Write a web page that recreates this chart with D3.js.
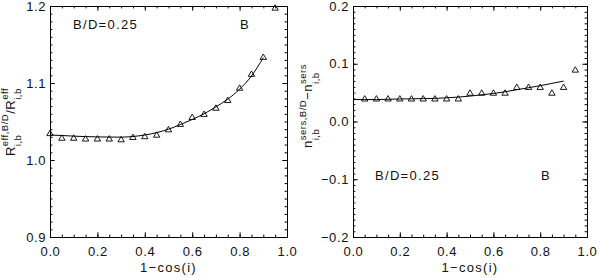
<!DOCTYPE html>
<html><head><meta charset="utf-8">
<script src="https://cdn.jsdelivr.net/npm/d3@7"></script>
<style>
body{margin:0;background:#fff;}
svg{display:block;}
text{font-family:"Liberation Sans",Arial,sans-serif;fill:#111;}
</style></head>
<body>
<svg id="c" width="600" height="278"></svg>
<script>
// ---- data ----
const xPts = [0.00,0.05,0.10,0.15,0.20,0.25,0.30,0.35,0.40,0.45,0.50,0.55,0.60,0.65,0.70,0.75,0.80,0.85,0.90,0.95];
const rPts = [1.035,1.029,1.029,1.028,1.028,1.028,1.027,1.030,1.031,1.033,1.040,1.047,1.056,1.060,1.068,1.078,1.094,1.112,1.134,1.198];
const xPtsN = [0.05,0.10,0.15,0.20,0.25,0.30,0.35,0.40,0.45,0.50,0.55,0.60,0.65,0.70,0.75,0.80,0.85,0.90,0.95];
const nPts = [0.04,0.04,0.04,0.04,0.04,0.04,0.04,0.04,0.04,0.05,0.05,0.05,0.05,0.06,0.06,0.06,0.05,0.06,0.09];
const xFit = [0.00,0.05,0.10,0.15,0.20,0.25,0.30,0.35,0.40,0.45,0.50,0.55,0.60,0.65,0.70,0.75,0.80,0.85,0.90];
const rFit = [1.0325,1.0318,1.0310,1.0304,1.0300,1.0298,1.0297,1.0305,1.0325,1.0355,1.0400,1.0460,1.0526,1.0600,1.0690,1.0790,1.0920,1.1090,1.1330];
const nFit = [0.038,0.038,0.038,0.0385,0.039,0.0393,0.0397,0.040,0.041,0.0423,0.044,0.0462,0.0485,0.0515,0.055,0.0585,0.062,0.066,0.070];
const xTicks = [0.0,0.2,0.4,0.6,0.8,1.0];
const yTicksL = [0.9,1.0,1.1,1.2];
const yTicksR = [-0.2,-0.1,0.0,0.1,0.2];
const xTitle = "1\u2212cos(i)";

const svg = d3.select("#c");
const fmt = d3.format(".1f");

function tri(){
  return {draw(ctx){ ctx.moveTo(-3.2,2.6); ctx.lineTo(0,-2.8); ctx.lineTo(3.2,2.6); ctx.closePath(); }};
}

function panel(o){
  const g = svg.append("g");
  const x = d3.scaleLinear().domain([0,1]).range([o.x0,o.x1]);
  const y = d3.scaleLinear().domain(o.yd).range([o.y1,o.y0]);
  const xMinor = d3.range(0,1.0001,0.05).map(v=>+v.toFixed(2));
  const yMinor = d3.range(o.yd[0],o.yd[1]+1e-9,0.01).map(v=>+v.toFixed(2));
  const TL=4.7, TM=2.4;
  function ax(gen, tr, vals, len, lab){
    const a = gen.tickValues(vals).tickSizeInner(-len).tickSizeOuter(0).tickPadding(lab?lab:0);
    if(!lab) a.tickFormat(""); else a.tickFormat(fmt);
    const s = g.append("g").attr("transform",tr).call(a);
    s.selectAll("path").attr("stroke","#000").attr("stroke-width",1);
    s.selectAll("line").attr("stroke","#000").attr("stroke-width",1);
    s.selectAll("text").style("font-size","13px").style("letter-spacing","0.6px")
      .style("font-family",'"Liberation Sans",Arial,sans-serif').attr("fill","#111");
    return s;
  }
  ax(d3.axisBottom(x), `translate(0,${o.y1})`, xMinor, TM);
  ax(d3.axisBottom(x), `translate(0,${o.y1})`, xTicks, TL, 10);
  ax(d3.axisTop(x), `translate(0,${o.y0})`, xMinor, TM);
  ax(d3.axisTop(x), `translate(0,${o.y0})`, xTicks, TL);
  ax(d3.axisLeft(y), `translate(${o.x0},0)`, yMinor, TM);
  ax(d3.axisLeft(y), `translate(${o.x0},0)`, o.yt, TL, 4);
  ax(d3.axisRight(y), `translate(${o.x1},0)`, yMinor, TM);
  ax(d3.axisRight(y), `translate(${o.x1},0)`, o.yt, TL);

  // fit line
  const line = d3.line().x((d,i)=>x(o.fx[i])).y(d=>y(d)).curve(d3.curveMonotoneX);
  g.append("path").datum(o.fy).attr("d",line).attr("fill","none").attr("stroke","#000").attr("stroke-width",1);
  // points
  const sym = d3.symbol().type(tri());
  g.selectAll(".p").data(o.py).join("path")
    .attr("transform",(d,i)=>`translate(${x(o.px[i])},${y(d)})`)
    .attr("d",sym).attr("fill","none").attr("stroke","#000").attr("stroke-width",0.9);

  // x title
  g.append("text").attr("x",(o.x0+o.x1)/2).attr("y",272).attr("text-anchor","middle")
    .style("font-size","13px").style("letter-spacing","1.3px").text(xTitle);
  // annotations
  g.append("text").attr("x",o.ax).attr("y",o.ay).style("font-size","13px").style("letter-spacing","1.3px").text("B/D=0.25");
  g.append("text").attr("x",o.bx).attr("y",o.ay).style("font-size","13px").text("B");
  // y title
  richLabel(o.lab, o.labX, o.labY);
}

function richLabel(pieces, bx, cy){
  const g = svg.append("g").attr("transform",`translate(${bx},${cy}) rotate(-90)`);
  const inner = g.append("g");
  let cur = 0;
  pieces.forEach(p=>{
    if(p.t!==undefined){
      const t = inner.append("text").attr("x",cur).attr("y",0).style("font-size",p.fs+"px").style("letter-spacing","0.5px").attr("xml:space","preserve").text(p.t);
      cur += t.node().getComputedTextLength();
    } else {
      const a = inner.append("text").attr("x",cur).attr("y",-6.5).style("font-size",p.fs+"px").style("letter-spacing","0.5px").text(p.sup);
      const b = inner.append("text").attr("x",cur).attr("y",6.5).style("font-size",p.fs+"px").style("letter-spacing","0.5px").text(p.sub);
      cur += Math.max(a.node().getComputedTextLength(), b.node().getComputedTextLength());
    }
  });
  inner.attr("transform",`translate(${-cur/2},0)`);
}

panel({x0:50,x1:287,y0:6,y1:237,yd:[0.9,1.2],yt:yTicksL,
  px:xPts,py:rPts,fx:xFit,fy:rFit,ax:73,bx:240,ay:29,
  lab:[{t:"R",fs:13},{sup:"eff,B/D",sub:"i,b",fs:9.5},{t:"/",fs:13},{t:"R",fs:13},{sup:"eff",sub:"i,b",fs:9.5}],
  labX:14.5,labY:122});
panel({x0:353,x1:587,y0:6,y1:237,yd:[-0.2,0.2],yt:yTicksR,
  px:xPtsN,py:nPts,fx:xFit,fy:nFit,ax:375,bx:541,ay:180,
  lab:[{t:"n",fs:13},{sup:"sers,B/D",sub:"i,b",fs:9.5},{t:"\u2212",fs:13},{t:"n",fs:13},{sup:"sers",sub:"i,b",fs:9.5}],
  labX:312,labY:106});
</script>
</body></html>
